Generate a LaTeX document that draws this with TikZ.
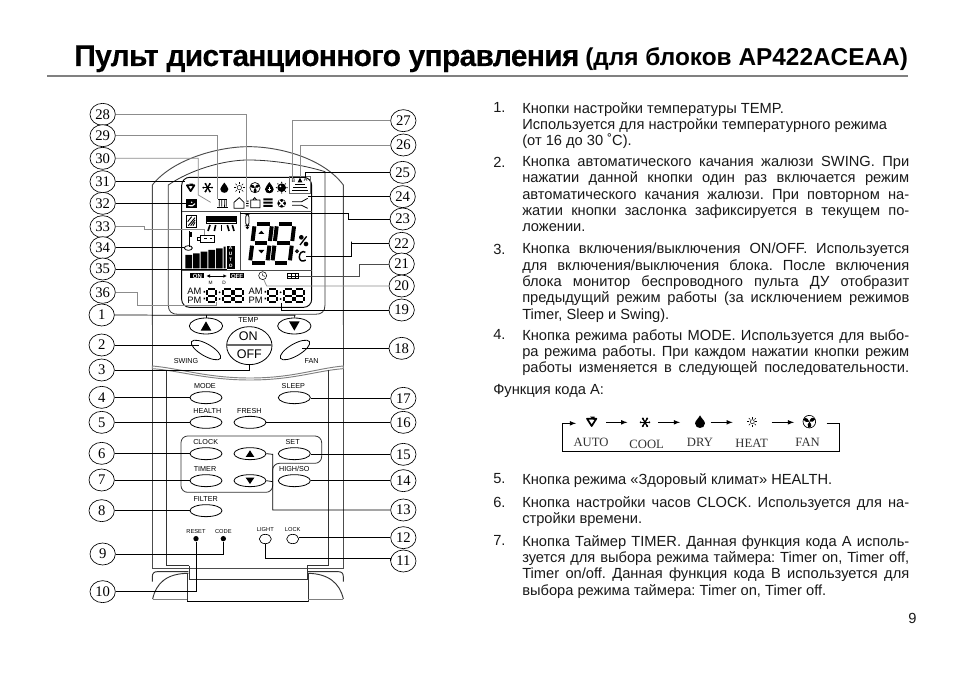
\documentclass[tikz,border=0pt]{standalone}
\usepackage{fontspec}
\setmainfont{Liberation Sans}
\newfontfamily\serifnum{Liberation Serif}
\usetikzlibrary{shapes.geometric}
\frenchspacing
\newcommand\JL[1]{\hbox to 290.25pt{\spaceskip=.26em plus 1em minus .1em #1}}
\newcommand\LL[1]{\hbox{#1}}
% seven segment digit: cx cy halfw halfh gap linewidth slant
\newcommand\segd[7]{\begin{scope}[shift={(#1,#2)},xslant=#7,line width=#6,line cap=butt]
\draw ({-#3+#5},{-#4})--({#3-#5},{-#4});
\draw ({-#3+#5},0)--({#3-#5},0);
\draw ({-#3+#5},{#4})--({#3-#5},{#4});
\draw ({-#3},{-#4+#5})--({-#3},{-#5});
\draw ({#3},{-#4+#5})--({#3},{-#5});
\draw ({-#3},{#5})--({-#3},{#4-#5});
\draw ({#3},{#5})--({#3},{#4-#5});
\end{scope}}
\newcommand\dropi[3]{\fill[shift={(#1,#2)},scale=#3] (0,-14) .. controls (4,-6) and (11,-2) .. (11,4) .. controls (11,11) and (5,14) .. (0,14) .. controls (-5,14) and (-11,11) .. (-11,4) .. controls (-11,-2) and (-4,-6) .. (0,-14) -- cycle;}
\newcommand\suni[3]{\begin{scope}[shift={(#1,#2)},scale=#3]
\draw[line width=.35pt] (0,0) circle (6);
\foreach \a in {0,45,...,315}{\draw[line width=.35pt] (\a:9)--(\a:15);}
\end{scope}}
\newcommand\fani[3]{\begin{scope}[shift={(#1,#2)},scale=#3]
\draw[line width=.5pt] (0,0) circle (14);
\foreach \a in {0,120,240}{\fill[rotate=\a] (0,0) .. controls (2,-8) and (8,-12) .. (13,-5) .. controls (11,-1) and (5,2) .. (0,0) -- cycle;}
\end{scope}}
\newcommand\snowi[3]{\begin{scope}[shift={(#1,#2)},scale=#3]
\foreach \a in {0,60,120}{\draw[line width=1pt] (\a:-15)--(\a:15);}
\foreach \a in {0,60,...,300}{\fill (\a:13) circle (3.2);}
\end{scope}}
\newcommand\autoi[3]{\begin{scope}[shift={(#1,#2)},scale=#3]
\draw[line width=1.3pt,line join=round] (-14,-9)--(14,-9)--(0,13)--cycle;
\fill (-5,-15)--(9,-15)--(9,-4)--cycle;
\fill[white] (-3,-5)--(3,-5)--(0,2)--cycle;
\end{scope}}
\tikzset{
 numlab/.style={ellipse,draw=black,line width=.5pt,fill=white,minimum width=19pt,minimum height=16.5pt,inner sep=0pt,font=\serifnum\fontsize{11pt}{11pt}\selectfont},
 lead/.style={line width=.55pt,black},
 leadg/.style={line width=.55pt,black!45},
 btn/.style={ellipse,draw=black,line width=.6pt,minimum width=24pt,minimum height=9pt,inner sep=0pt},
 tinylab/.style={inner sep=0pt,font=\fontsize{5.4pt}{5.4pt}\selectfont},
 para/.style={anchor=north west,inner sep=0pt,font=\fontsize{11pt}{12.25pt}\selectfont,black!90},
 numb/.style={anchor=north west,inner sep=0pt,font=\fontsize{11pt}{12.25pt}\selectfont,black!90},
 codelab/.style={inner sep=0pt,font=\serifnum\fontsize{9.5pt}{9.5pt}\selectfont,black!80},
 lcdlab/.style={inner sep=0pt,font=\fontsize{7pt}{7pt}\selectfont},
}
\begin{document}
\begin{tikzpicture}[x=.75pt,y=-.75pt]
\useasboundingbox (0,0) rectangle (954,673);
\fill[white] (0,0) rectangle (954,673);
% heading
\node[anchor=base west,inner sep=0pt,font=\bfseries\fontsize{22.5pt}{24pt}\selectfont\addfontfeature{LetterSpace=-2.4,FakeBold=0.2}] (title) at (74,66) {Пульт дистанционного управления};
\node[anchor=base west,inner sep=0pt,font=\bfseries\fontsize{18.3pt}{20pt}\selectfont] (subtitle) at (585,66) {(для блоков AP422ACEAA)};
\coordinate (ruleL) at (47,76); \coordinate (ruleR) at (908,76);
\draw[line width=1.3pt,black!50] (ruleL)--(ruleR);
% text column
\node[numb] (n1) at (493,102.5) {1.};
\node[para] (p1) at (522,102) {\vbox{\LL{Кнопки настройки температуры TEMP.}\LL{Используется для настройки температурного режима}\LL{(от 16 до 30 ˚С).}}};
\node[numb] (n2) at (493,156.5) {2.};
\node[para] (p2) at (522,156) {\vbox{\JL{Кнопка автоматического качания жалюзи SWING. При}\JL{нажатии данной кнопки один раз включается режим}\JL{автоматического качания жалюзи. При повторном на-}\JL{жатии кнопки заслонка зафиксируется в текущем по-}\LL{ложении.}}};
\node[numb] (n3) at (493,243.5) {3.};
\node[para] (p3) at (522,243) {\vbox{\JL{Кнопка включения/выключения ON/OFF. Используется}\JL{для включения/выключения блока. После включения}\JL{блока монитор беспроводного пульта ДУ отобразит}\JL{предыдущий режим работы (за исключением режимов}\LL{Timer, Sleep и Swing).}}};
\node[numb] (n4) at (493,329.5) {4.};
\node[para] (p4) at (522,329) {\vbox{\JL{Кнопка режима работы MODE. Используется для выбо-}\JL{ра режима работы. При каждом нажатии кнопки режим}\JL{работы изменяется в следующей последовательности.}}};
\node[numb] (fa) at (493,384) {Функция кода А:};
\node[numb] (n5) at (493,473.5) {5.};
\node[para] (p5) at (522,473) {\vbox{\LL{Кнопка режима «Здоровый климат» HEALTH.}}};
\node[numb] (n6) at (493,496.5) {6.};
\node[para] (p6) at (522,496) {\vbox{\JL{Кнопка настройки часов CLOCK. Используется для на-}\LL{стройки времени.}}};
\node[numb] (n7) at (493,535.5) {7.};
\node[para] (p7) at (522,535) {\vbox{\JL{Кнопка Таймер TIMER. Данная функция кода А исполь-}\JL{зуется для выбора режима таймера: Timer on, Timer off,}\JL{Timer on/off. Данная функция кода В используется для}\LL{выбора режима таймера: Timer on, Timer off.}}};
\node[numb] (pg) at (908,613) {9};
% code A strip
\begin{scope}[shift={(550,400)},x=.25pt,y=-.25pt]
\coordinate (la) at (830,70); \coordinate (lb) at (868,153); \coordinate (lc) at (38,153); \coordinate (ld) at (78,70);
\draw[line width=.6pt,-latex] (la)-|(lb)--(lc)|-(ld);
\autoi{125}{65}{1}
\snowi{285}{67}{1}
\dropi{450}{65}{1.35}
\suni{607}{65}{1}
\fani{778}{65}{1.35}
\foreach \a/\b in {168/232,325/390,482/548,665/732}{\draw[line width=.6pt,-latex] (\a,67)--(\b,67);}
\node[codelab] (ca) at (123,128) {AUTO};
\node[codelab] (cb) at (290,132) {COOL};
\node[codelab] (cc) at (450,128) {DRY};
\node[codelab] (cd) at (605,130) {HEAT};
\node[codelab] (ce) at (773,127) {FAN};
\end{scope}
% upper part of remote, zoom-1 frame
\begin{scope}[shift={(80,95)},x=.25pt,y=-.25pt]
% body
\draw[line width=.7pt,black!70] (217,690)--(217,270) .. controls (280,190) and (420,155) .. (505,155) .. controls (600,155) and (730,190) .. (790,270)--(790,690);
% lcd surround
\draw[line width=.6pt,black!80] (265,270) .. controls (330,225) and (430,195) .. (505,195) .. controls (580,195) and (670,210) .. (735,230)--(735,630) .. controls (735,650) and (725,658) .. (705,658)--(295,658) .. controls (275,658) and (265,650) .. (265,630)--cycle;
% lcd frame
\draw[line width=.7pt,rounded corners=6pt] (305,247) rectangle (695,637);
\draw[line width=.5pt,black!70] (305,350)--(695,350) (305,525)--(695,525) (480,350)--(480,525);
% icon row 1
\autoi{332}{278}{.8}
\snowi{383}{278}{1}
\dropi{433}{278}{1.1}
\suni{478}{278}{1.1}
\fani{525}{278}{1.1}
\begin{scope}[shift={(568,278)}]\dropi{0}{0}{1.2}\draw[white,line width=.6pt] (-5,4)--(5,4) (0,-1)--(0,9);\end{scope}
\begin{scope}[shift={(605,278)}]\fill (0,0) circle (13);\foreach \a in {0,45,...,315}{\fill (\a:16) circle (2);}\fill[white] (-4,-4) circle (3);\end{scope}
\draw[line width=.5pt,black!60] (628,243) rectangle (692,296);
\node[inner sep=0pt,font=\fontsize{4pt}{4pt}\selectfont] (ba) at (640,257) {B};
\node[inner sep=0pt,font=\fontsize{4pt}{4pt}\selectfont] (aa) at (677,255) {A};
\fill (660,248)--(667,262)--(653,262)--cycle;
\fill (645,266) rectangle (675,270);
\fill (640,275) rectangle (680,279);
\fill (636,284) rectangle (684,289);
% icon row 2
\fill (319,311) rectangle (351,339);
\draw[white,line width=.8pt] (325,332) .. controls (333,335) and (342,332) .. (345,326);
\fill[white] (335,322) circle (2.5);
\begin{scope}[line width=.6pt]
\draw (414,314)--(442,314);
\foreach \a in {418,425,432,439}{\draw (\a,314) .. controls (\a+3,320) and (\a-3,326) .. (\a,335);}
\draw (412,337)--(444,337);
\end{scope}
\draw[line width=.6pt] (462,340)--(462,322)--(478,308)--(492,322)--(492,340)--cycle;
\fill (498,317) rectangle (506,320) (498,324) rectangle (506,327) (498,331) rectangle (506,334);
\draw[line width=.6pt] (512,315) rectangle (540,338) (518,315)--(524,308)--(530,315);
\fill (550,310) rectangle (578,316) (550,320) rectangle (578,326) (550,330) rectangle (578,336);
\fill (605,325) circle (13);
\draw[white,line width=1pt] (597,317)--(613,333) (597,333)--(613,317);
\draw[line width=.6pt] (636,320)--(665,320)--(683,310) (636,331)--(665,331)--(683,340);
% left panel
\draw[line width=.5pt] (320,362) rectangle (350,396);
\begin{scope}[line width=.7pt]\foreach \a in {0,7,14}{\draw (325+\a,392)--(345,368+\a);}\draw (323,380)--(335,365);\end{scope}
\draw[line width=.5pt] (380,363) rectangle (470,384);
\fill (382,365) rectangle (468,380);
\foreach \a/\b in {390/384,407/403,425/425,442/447,457/462}{\draw[line width=1.2pt] (\a,390)--(\b,408);}
\fill (327,408) rectangle (331,455);
\fill (331,412) rectangle (337,425);
\draw[line width=.6pt] (325,459) ellipse (12 and 7);
\draw[line width=.6pt] (360,420) rectangle (402,442) (352,427) rectangle (360,436);
\draw[line width=.5pt] (373,431)--(380,431) (390,431)--(397,431);
\fill (316,480) rectangle (336,520) (339,475) rectangle (359,520) (362,470) rectangle (382,520) (385,465) rectangle (405,520) (408,460) rectangle (428,520) (431,455) rectangle (437,520);
\fill (440,452) rectangle (465,521);
\node[align=center,inner sep=0pt,text=white,font=\bfseries\fontsize{3.6pt}{4.4pt}\selectfont] (autov) at (452,486) {A\\U\\T\\O};
% big display
\draw[line width=.6pt,rounded corners=2pt] (497,358) rectangle (507,392);
\fill (502,398) circle (5);
\segd{543}{445}{26}{58}{7}{3pt}{.12}
\segd{610}{445}{26}{58}{7}{3pt}{.12}
\fill (544,407)--(553,417)--(535,417)--cycle;
\fill (544,475)--(553,465)--(535,465)--cycle;
\fill (664,427) circle (7) (678,447) circle (7);
\draw[line width=1pt] (660,450)--(680,424);
\draw[line width=.8pt] (651,469) circle (4);
\draw[line width=1.1pt] (676,472) .. controls (668,465) and (656,475) .. (658,488) .. controls (660,500) and (670,500) .. (677,495);
% on/off row
\fill (330,535) rectangle (373,550);
\node[text=white,inner sep=0pt,font=\bfseries\fontsize{4.5pt}{4.5pt}\selectfont] (onl) at (352,543) {ON};
\draw[line width=.5pt] (388,543)--(432,543);
\fill (380,543)--(390,538)--(390,548)--cycle (440,543)--(430,538)--(430,548)--cycle;
\node[tinylab,font=\fontsize{3.6pt}{3.6pt}\selectfont] (ml) at (392,563) {M};
\node[tinylab,font=\fontsize{3.6pt}{3.6pt}\selectfont] (dl) at (432,563) {D};
\fill (450,535) rectangle (493,550);
\node[text=white,inner sep=0pt,font=\bfseries\fontsize{4.5pt}{4.5pt}\selectfont] (offl) at (471,543) {OFF};
\node[circle,draw,line width=.4pt,minimum size=6pt,inner sep=0pt] (clk) at (548,542) {};
\draw[line width=.4pt] (548,542)--(548,535) (548,542)--(555,544);
\draw[line width=.6pt] (622,536) rectangle (656,550) (622,543)--(656,543) (633,536)--(633,550) (645,536)--(645,550);
% clock digits
\node[lcdlab] (am1) at (343,590) {AM};
\node[lcdlab] (pm1) at (343,615) {PM};
\node[lcdlab] (am2) at (527,590) {AM};
\node[lcdlab] (pm2) at (527,615) {PM};
\foreach \a in {395,578}{
 \segd{\a}{602}{14}{19}{3}{1.6pt}{0}
 \fill (\a+24,592) circle (3) (\a+24,612) circle (3);
 \segd{\a+47}{602}{14}{19}{3}{1.6pt}{0}
 \segd{\a+80}{602}{14}{19}{3}{1.6pt}{0}
 \fill (\a-24,588) rectangle +(4,5) (\a-24,608) rectangle +(4,5);
}
% remote labels
\node[numlab] (L28) at (68,58) {28};
\node[numlab] (L29) at (68,122) {29};
\node[numlab] (L30) at (68,190) {30};
\node[numlab] (L31) at (68,260) {31};
\node[numlab] (L32) at (68,325) {32};
\node[numlab] (L33) at (68,395) {33};
\node[numlab] (L34) at (68,458) {34};
\node[numlab] (L35) at (68,522) {35};
\node[numlab] (L36) at (68,592) {36};
\node[numlab] (L1) at (65,660) {1};
\node[numlab] (L27) at (970,77) {27};
\node[numlab] (L26) at (970,150) {26};
\node[numlab] (L25) at (968,232) {25};
\node[numlab] (L24) at (968,305) {24};
\node[numlab] (L23) at (968,372) {23};
\node[numlab] (L22) at (965,445) {22};
\node[numlab] (L21) at (965,507) {21};
\node[numlab] (L20) at (965,573) {20};
\node[numlab] (L19) at (965,645) {19};
% leaders
\coordinate (e28) at (498,320); \draw[leadg] (L28.east)-|(e28);
\coordinate (e29) at (412,312); \draw[leadg] (L29.east)-|(e29);
\coordinate (c30) at (355,300); \coordinate (e30) at (392,322); \draw[leadg] (L30.east)-|(c30)--(e30);
\coordinate (e31) at (315,260); \draw[lead] (L31.east)--(e31);
\coordinate (e32) at (319,325); \draw[lead] (L32.east)--(e32);
\coordinate (c33) at (192,403); \coordinate (e33) at (372,420); \draw[leadg] (L33.east)-|(c33)-|(e33);
\coordinate (e34) at (313,458); \draw[lead] (L34.east)--(e34);
\coordinate (e35) at (440,522); \draw[lead] (L35.east)--(e35);
\coordinate (c36) at (172,630); \coordinate (e36) at (410,620); \draw[leadg] (L36.east)-|(c36)-|(e36);
\coordinate (e27) at (638,248); \draw[leadg] (L27.west)-|(e27);
\coordinate (e26) at (660,246); \draw[leadg] (L26.west)-|(e26);
\coordinate (e25) at (675,250); \draw[lead] (L25.west)-|(e25);
\coordinate (e24) at (684,305); \draw[lead] (L24.west)--(e24);
\coordinate (c23) at (805,355); \coordinate (e23) at (480,355); \draw[lead] (L23.west)-|(c23)--(e23);
\coordinate (c22) at (815,440); \coordinate (e22) at (677,483); \draw[lead] (L22.west)-|(c22)|-(e22);
\coordinate (c21) at (838,507); \coordinate (e21) at (656,543); \draw[lead,black!70] (L21.west)--(c21)|-(e21);
\coordinate (c20) at (560,573); \coordinate (e20) at (552,555); \draw[leadg] (L20.west)--(c20)--(e20);
\coordinate (e19) at (603,625); \draw[lead] (L19.west)-|(e19);
\end{scope}
% lower part of remote, zoom-2 frame
\begin{scope}[shift={(80,300)},x=.25pt,y=-.25pt]
\draw[line width=.7pt,black!70] (217,60)--(217,805)--(790,805)--(790,60);
\draw[line width=.7pt,black!50,fill=white] (217,198) .. controls (300,205) and (380,234) .. (510,234) .. controls (640,234) and (710,205) .. (790,198)--(790,206) .. controls (710,212) and (640,240) .. (510,240) .. controls (380,240) and (300,212) .. (217,206)--cycle;
\draw[line width=.6pt,black!80] (260,210)--(260,797)--(328,797) (745,210)--(745,797)--(680,797);
% buttons
\node[btn,minimum width=25pt,minimum height=12pt] (bup) at (378,78) {};
\fill (378,64)--(394,92)--(362,92)--cycle;
\node[btn,minimum width=25pt,minimum height=12pt] (bdn) at (643,78) {};
\fill (643,92)--(659,64)--(627,64)--cycle;
\node[ellipse,draw,line width=.6pt,minimum width=34pt,minimum height=28.5pt,inner sep=0pt] (onoff) at (508,137) {};
\coordinate (ow) at (440,135); \coordinate (oe) at (576,135);
\draw[line width=.9pt,black!60] (ow)--(oe);
\node[inner sep=0pt,font=\fontsize{9.4pt}{9.4pt}\selectfont] (ont) at (505,110) {ON};
\node[inner sep=0pt,font=\fontsize{9.4pt}{9.4pt}\selectfont] (offt) at (508,162) {OFF};
\node[btn,rotate=-30,minimum width=25pt,minimum height=9pt] (bsw) at (378,150) {};
\node[btn,rotate=30,minimum width=25pt,minimum height=9pt] (bfan) at (645,150) {};
\node[tinylab] (tmp) at (505,60) {TEMP};
\node[tinylab] (swt) at (318,183) {SWING};
\node[tinylab] (fnt) at (695,183) {FAN};
\node[btn] (bmode) at (378,293) {};
\node[btn] (bsleep) at (643,293) {};
\node[btn] (bhealth) at (378,367) {};
\node[btn] (bfresh) at (510,367) {};
\node[btn] (bclock) at (378,461) {};
\node[btn] (bu2) at (510,461) {};
\fill (510,451)--(523,471)--(497,471)--cycle;
\node[btn] (bset) at (643,461) {};
\node[btn] (btimer) at (378,542) {};
\node[btn] (bd2) at (510,542) {};
\fill (510,552)--(523,533)--(497,533)--cycle;
\node[btn] (bhigh) at (643,542) {};
\node[btn] (bfilter) at (378,632) {};
\node[tinylab] (t1) at (375,258) {MODE};
\node[tinylab] (t2) at (640,257) {SLEEP};
\node[tinylab] (t3) at (382,332) {HEALTH};
\node[tinylab] (t4) at (508,332) {FRESH};
\node[tinylab] (t5) at (377,425) {CLOCK};
\node[tinylab] (t6) at (638,425) {SET};
\node[tinylab] (t7) at (375,507) {TIMER};
\node[tinylab] (t8) at (643,507) {HIGH/SO};
\node[tinylab] (t9) at (377,597) {FILTER};
\node[tinylab,font=\fontsize{4.3pt}{4.3pt}\selectfont] (t10) at (348,694) {RESET};
\node[tinylab,font=\fontsize{4.3pt}{4.3pt}\selectfont] (t11) at (430,694) {CODE};
\node[tinylab,font=\fontsize{4.3pt}{4.3pt}\selectfont] (t12) at (556,688) {LIGHT};
\node[tinylab,font=\fontsize{4.3pt}{4.3pt}\selectfont] (t13) at (638,688) {LOCK};
\node[circle,fill=black,minimum size=4pt,inner sep=0pt] (dreset) at (348,716) {};
\node[circle,fill=black,minimum size=4pt,inner sep=0pt] (dcode) at (430,716) {};
\node[ellipse,draw,line width=.5pt,minimum width=9pt,minimum height=7pt,inner sep=0pt] (blight) at (556,717) {};
\node[ellipse,draw,line width=.5pt,minimum width=9pt,minimum height=7pt,inner sep=0pt] (block) at (638,717) {};
\draw[line width=.6pt,black!80,rounded corners=5pt] (303,408)--(725,408)--(725,490)--(578,490)--(578,577)--(303,577)--cycle;
% battery cover and wings
\draw[line width=.6pt,black!80] (328,797)--(328,838)--(682,838)--(682,797);
\draw[line width=.6pt,black!80] (322,820)--(322,905) (685,820)--(685,905);
\draw[line width=1pt] (322,904)--(685,904);
\draw[line width=.7pt,black!80] (325,815)--(232,815) .. controls (222,815) and (217,820) .. (217,830) --(217,845);
\draw[line width=.7pt,black!80] (218,897) .. controls (228,850) and (260,820) .. (325,820);
\draw[line width=.7pt,black!50] (218,899)--(322,899);
\draw[line width=.7pt,black!80] (682,815)--(775,815) .. controls (785,815) and (790,820) .. (790,830)--(790,845);
\draw[line width=.7pt,black!80] (790,897) .. controls (780,850) and (745,820) .. (682,820);
\draw[line width=.7pt,black!50] (685,899)--(790,899);
% labels
\node[numlab] (L2) at (65,135) {2};
\node[numlab] (L3) at (65,210) {3};
\node[numlab] (L4) at (65,292) {4};
\node[numlab] (L5) at (65,367) {5};
\node[numlab] (L6) at (65,460) {6};
\node[numlab] (L7) at (65,540) {7};
\node[numlab] (L8) at (65,632) {8};
\node[numlab] (L9) at (68,762) {9};
\node[numlab] (L10) at (68,875) {10};
\node[numlab] (L18) at (965,145) {18};
\node[numlab] (L17) at (970,295) {17};
\node[numlab] (L16) at (970,367) {16};
\node[numlab] (L15) at (970,463) {15};
\node[numlab] (L14) at (970,542) {14};
\node[numlab] (L13) at (970,630) {13};
\node[numlab] (L12) at (970,713) {12};
\node[numlab] (L11) at (970,783) {11};
% leaders
\coordinate (j1u) at (378,46); \coordinate (j1d) at (645,46);
\draw[lead] (L1.east)--(j1u)--(j1d)--(bdn.north);
\draw[lead] (j1u)--(bup.north);
\draw[lead] (L2.east)--(L2.east-|bsw.155);
\draw[lead] (L3.east)-|(onoff.south);
\draw[lead] (L4.east)--(L4.east-|bmode.west);
\draw[lead] (L5.east)--(L5.east-|bhealth.west);
\draw[lead] (L6.east)--(L6.east-|bclock.west);
\draw[lead] (L7.east)--(L7.east-|btimer.west);
\draw[lead] (L8.east)--(L8.east-|bfilter.west);
\draw[lead] (L9.east)-|(dcode.south);
\draw[lead] (L10.east)-|(dreset.south);
\coordinate (c11) at (556,775); \draw[lead] (L11.west)|-(c11)--(blight.south);
\draw[lead] (L12.west)--(L12.west-|block.east);
\coordinate (c13) at (578,630); \coordinate (c13b) at (578,463); \coordinate (c13c) at (578,545);
\draw[lead] (L13.west)--(c13)--(c13b)--(bu2.east);
\draw[lead] (c13c)--(bd2.east);
\draw[lead] (L14.west)--(L14.west-|bhigh.east);
\draw[lead] (L15.west)--(L15.west-|bset.east);
\draw[lead] (L16.west)--(L16.west-|bfresh.east);
\draw[lead] (L17.west)--(L17.west-|bsleep.east);
\draw[lead] (L18.west)--(L18.west-|bfan.25);
\end{scope}
\end{tikzpicture}
\end{document}
